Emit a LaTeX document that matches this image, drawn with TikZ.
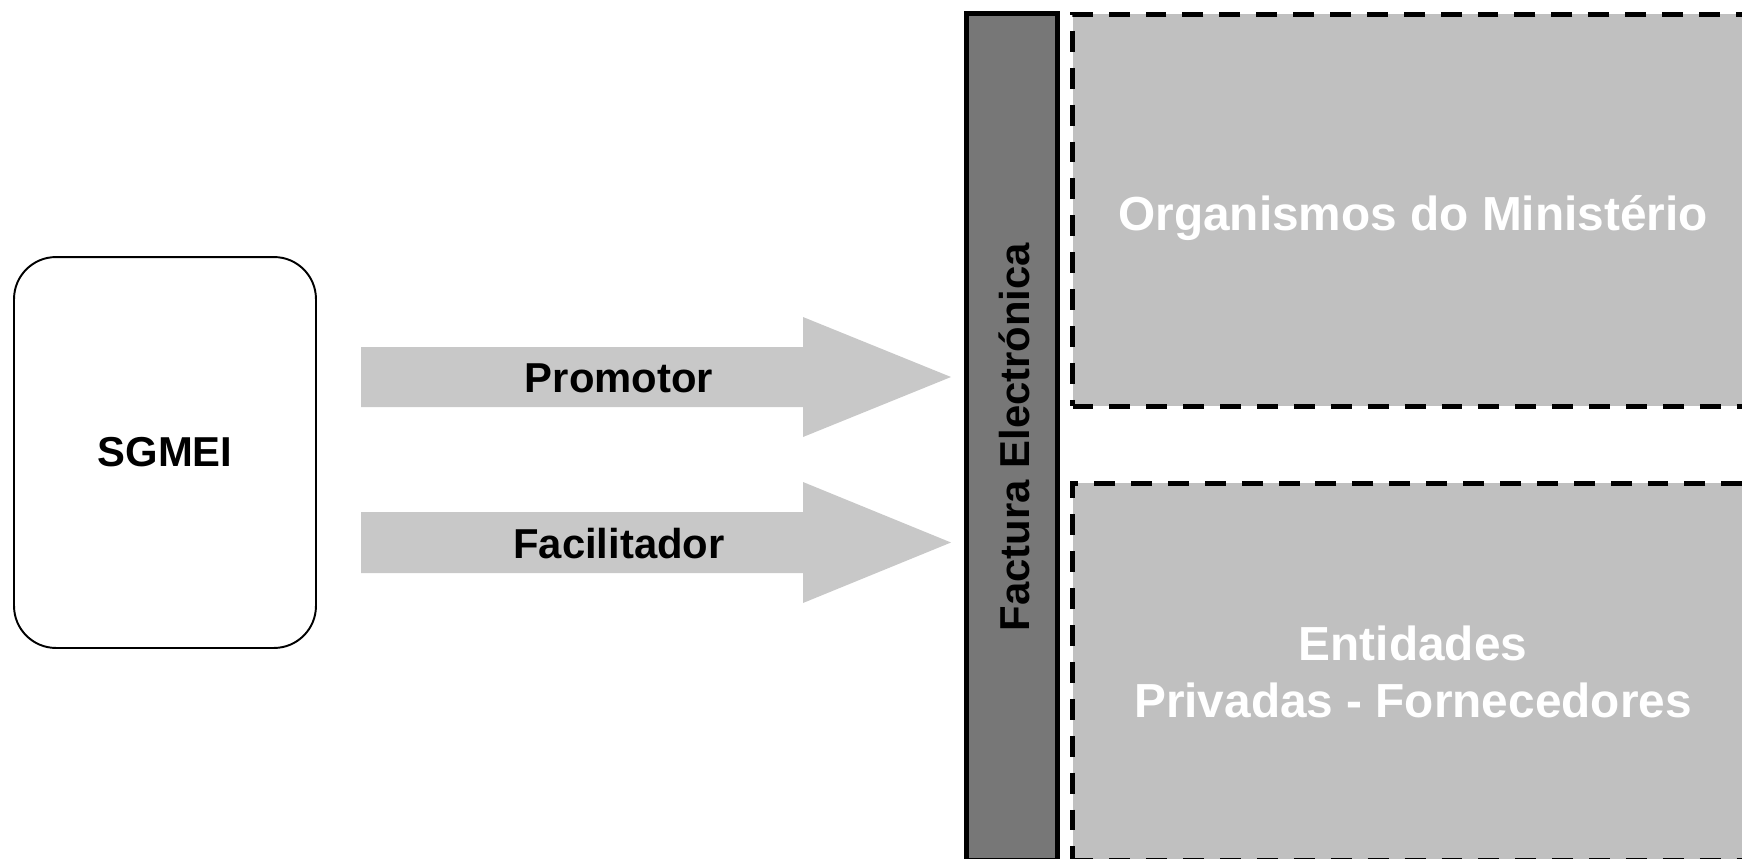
\documentclass[tikz,border=0pt]{standalone}
\usepackage{fontspec}
\setmainfont{Liberation Sans}
\usetikzlibrary{calc}
\definecolor{arrowgray}{RGB}{200,200,200}
\definecolor{boxgray}{RGB}{192,192,192}
\definecolor{bargray}{RGB}{119,119,119}
\begin{document}
\begin{tikzpicture}[x=0.02cm,y=-0.02cm,
  lbl/.style={font=\fontsize{23.8}{28.6}\selectfont\bfseries, inner sep=0pt},
  bigtxt/.style={font=\fontsize{27.2}{32.7}\selectfont\bfseries, text=white, align=center, inner sep=0pt},
  sgbox/.style={draw=black, line width=1.1pt, rounded corners=0.84cm, inner sep=0pt,
    minimum width=6.04cm, minimum height=7.82cm},
  barbox/.style={draw=black, fill=bargray, line width=2.9pt, inner sep=0pt,
    minimum width=1.82cm, minimum height=16.95cm},
  dashbox/.style={draw=black, fill=boxgray, line width=2.83pt,
    dash pattern=on 11.9pt off 9.1pt, inner sep=0pt, minimum width=13.62cm},
  blockarrow/.style={fill=arrowgray}]
\useasboundingbox (0,0) rectangle (1742,859);
\clip (0,0) rectangle (1742,859);

% left rounded box
\node[sgbox, lbl] (sgmei) at (165,452.5) {SGMEI};

% vertical dark bar
\node[barbox] (bar) at (1012,437.25) {};
\node[lbl, rotate=90] (bartext) at (1014,437) {Factura Electrónica};

% dashed boxes
\node[dashbox, minimum height=7.85cm] (org) at (1413,210.25) {};
\node[bigtxt, anchor=base] (orgtext) at (1413,230) {Organismos do Ministério};
\node[dashbox, bigtxt, minimum height=7.56cm] (ent) at (1413,672) {Entidades\\Privadas - Fornecedores};

% block arrows
\coordinate (a1s) at (361,377);
\coordinate (a1t) at (951,377);
\coordinate (a2s) at (361,542.5);
\coordinate (a2t) at (951,542.5);
\fill[blockarrow] ($(a1s)+(0,-30)$) -- (803,347) -- (803,317) -- (a1t) -- (803,437) -- (803,407) -- ($(a1s)+(0,30)$) -- cycle;
\fill[blockarrow] ($(a2s)+(0,-30.5)$) -- (803,512) -- (803,482) -- (a2t) -- (803,603) -- (803,573) -- ($(a2s)+(0,30.5)$) -- cycle;
\node[lbl] (prom) at (619,378) {Promotor};
\node[lbl] (facil) at (619,544) {Facilitador};
\end{tikzpicture}
\end{document}
